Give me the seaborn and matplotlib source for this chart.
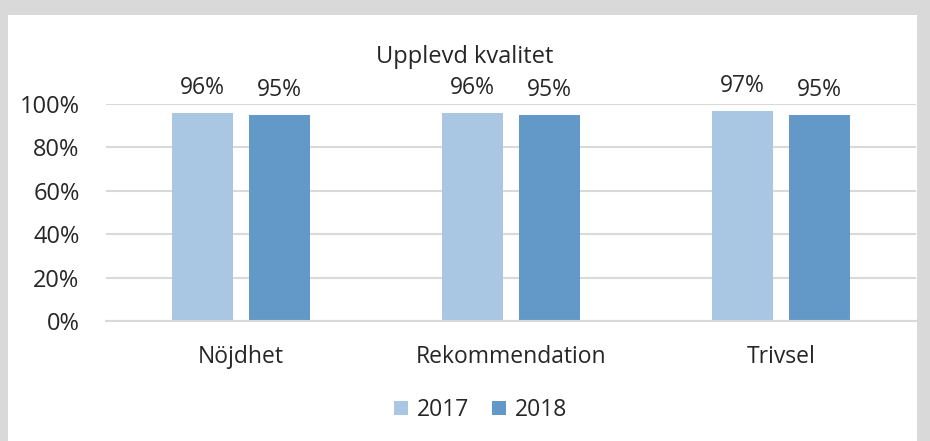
import pandas as pd
import matplotlib.pyplot as plt
import seaborn as sns
from matplotlib.patches import Rectangle, Patch
from matplotlib.ticker import PercentFormatter

categories = ['Nöjdhet', 'Rekommendation', 'Trivsel']
years = ['2017', '2018']
values_2017 = [96, 96, 97]
values_2018 = [95, 95, 95]
colors = ['#A9C6E3', '#6399C8']
y_ticks = [0, 20, 40, 60, 80, 100]

df = pd.DataFrame({
    'Kategori': categories * 2,
    'År': [years[0]] * 3 + [years[1]] * 3,
    'Andel': values_2017 + values_2018,
})

sns.set_style('white')
plt.rcParams['font.family'] = ['Open Sans', 'DejaVu Sans']
text_color = '#262626'

fig = plt.figure(figsize=(9.3, 4.41), dpi=100)
fig.patch.set_facecolor('#D9D9D9')
fig.add_artist(Rectangle((8 / 930, 0), 909 / 930, 426 / 441, transform=fig.transFigure,
                         facecolor='white', edgecolor='none', zorder=0))

ax = fig.add_axes([106 / 930, 1 - 321 / 441, 810 / 930, 217 / 441])
ax.set_facecolor('none')
sns.barplot(data=df, x='Kategori', y='Andel', hue='År', palette=colors,
            width=0.574, gap=0.213, saturation=1, linewidth=0, ax=ax, legend=False)

for cont in ax.containers:
    ax.bar_label(cont, labels=[f'{int(v)}%' for v in cont.datavalues], padding=9,
                 fontsize=16.5, color=text_color)

ax.set_ylim(0, 100)
ax.set_yticks(y_ticks)
ax.yaxis.set_major_formatter(PercentFormatter(decimals=0))
ax.grid(axis='y', color='#D9D9D9', linewidth=1.5)
ax.set_axisbelow(True)
sns.despine(ax=ax, left=True, top=True, right=True, bottom=False)
ax.spines['bottom'].set_color('#D9D9D9')
ax.spines['bottom'].set_linewidth(1.5)
ax.tick_params(axis='y', length=0, pad=19, labelsize=17, labelcolor=text_color)
ax.tick_params(axis='x', length=0, pad=17, labelsize=16.5, labelcolor=text_color)
ax.set_xlabel('')
ax.set_ylabel('')

fig.text(0.5, 1 - 57 / 441, 'Upplevd kvalitet', ha='center', va='center',
         fontsize=17, color=text_color)

handles = [Patch(facecolor=c, edgecolor='none') for c in colors]
fig.legend(handles, years, loc='center', bbox_to_anchor=(481 / 930, 1 - 410 / 441),
           ncol=2, frameon=False, fontsize=16.5, handlelength=0.6, handleheight=0.6,
           handletextpad=0.4, columnspacing=1.0, labelcolor=text_color)

fig.savefig('out.png', dpi=100)
